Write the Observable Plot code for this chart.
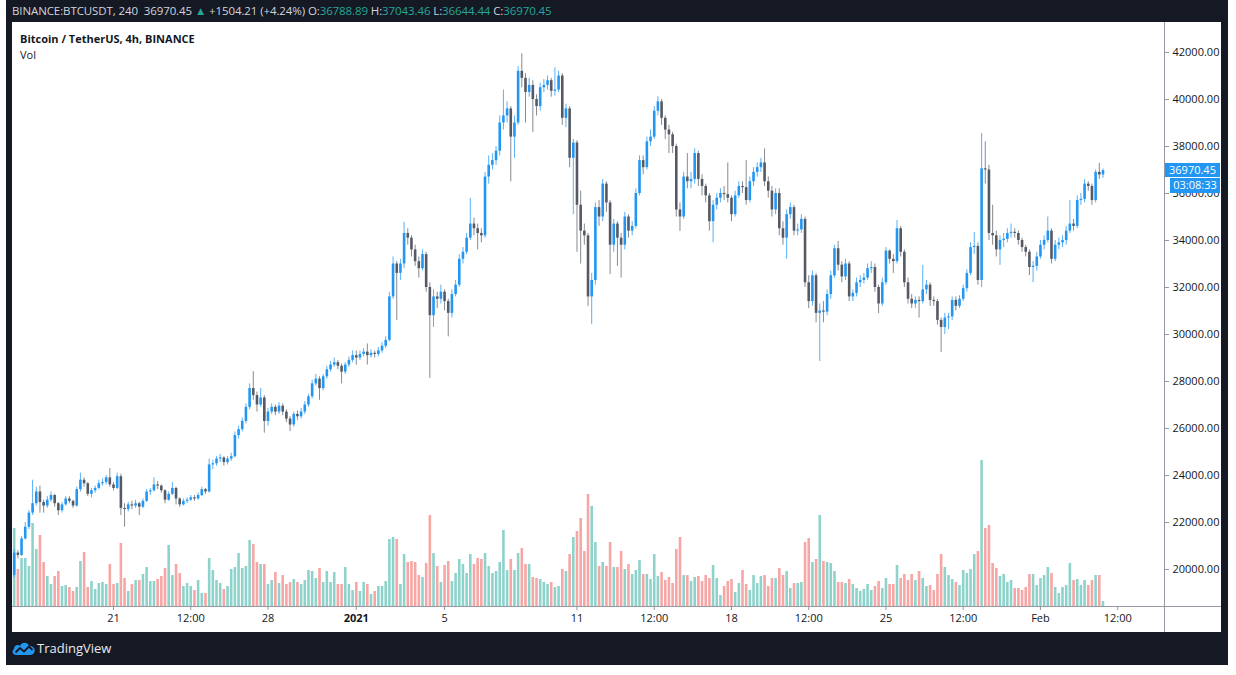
<!DOCTYPE html>
<html>
<head>
<meta charset="utf-8">
<script src="https://cdn.jsdelivr.net/npm/d3@7"></script>
<script src="https://cdn.jsdelivr.net/npm/@observablehq/plot@0.6"></script>
<style>
  html, body { margin: 0; padding: 0; background: #ffffff; }
  body { width: 1236px; height: 675px; position: relative; overflow: hidden; font-family: "Open Sans", "Noto Sans", sans-serif; }
  #frame { position: absolute; left: 6px; top: 0; width: 1222px; height: 665px; background: #151924; }
  #panel { position: absolute; left: 12px; top: 22px; width: 1209px; height: 610px; background: #ffffff; overflow: hidden; }
  #hdr { position: absolute; left: 12px; top: 3px; font-size: 11.5px; line-height: 16px; color: #d1d4dc; white-space: nowrap; letter-spacing: -0.1px; }
  #hdr .g { color: #26a69a; }
  #title { position: absolute; left: 20px; top: 31px; font-size: 11px; font-weight: 700; color: #131722; white-space: nowrap; }
  #vol { position: absolute; left: 20px; top: 47px; font-size: 11px; color: #131722; }
  .layer { position: absolute; left: 12px; top: 22px; }
  .hline { position: absolute; left: 12px; width: 1209px; height: 1px; background: #9598a1; }
  .vline { position: absolute; width: 1px; background: #9598a1; }
  .tag { position: absolute; background: #2196f3; color: #ffffff; font-size: 11px; line-height: 14px; text-align: center; }
  #brand { position: absolute; left: 37px; top: 639px; font-size: 13px; color: #e8eaf0; }
  #logo { position: absolute; left: 11px; top: 638px; }
</style>
</head>
<body>
<div id="frame"></div>
<div id="panel"></div>
<div id="hdr"></div>
<div id="charts"></div>
<div id="title">Bitcoin / TetherUS, 4h, BINANCE</div>
<div id="vol">Vol</div>
<svg id="logo" width="26" height="20" viewBox="0 0 26 20">
  <path d="M5 17 C1.5 17 0.5 13 3 11 C3 7.5 7 6 9 8 C10.5 4 16.5 3.5 18 8 C21.5 7.5 24.5 10.5 23.5 13.5 C23 16 21 17 19 17 Z" fill="#2196f3"/>
  <path d="M4.5 14.5 L9 10 L13 13.5 L18 8.5 L21.5 12" fill="none" stroke="#151924" stroke-width="1.8" stroke-linejoin="round"/>
</svg>
<div id="brand">TradingView</div>
<script>
// ---- data (4h candles, BINANCE BTCUSDT) ----
const firstStart = Date.UTC(2020, 11, 16, 12); // first candle open time
const firstOpen = 19750;
const closes = [
20700,20600,21300,21800,22400,22800,23300,22850,22700,22950,23150,22800,22500,22750,23000,22900,22700,23400,23800,23650,
23200,23350,23450,23650,23700,23900,23600,23450,23950,22600,22550,22750,22700,22800,22650,22900,23300,23350,23600,23550,
23350,22950,23200,23450,23000,22750,22900,22950,23050,23000,23150,23400,23300,24450,24500,24700,24750,24550,24700,24800,
25700,25950,26300,26900,27700,27400,27000,27300,26300,26700,26900,26700,26950,26700,26400,26150,26600,26500,26700,27000,
27350,27900,28100,27700,28200,28500,28700,28800,28650,28400,28700,28900,29100,29000,29150,29250,29100,29200,29150,29300,
29500,29750,31600,33000,32600,33000,34300,34100,33600,33100,32800,33400,32000,30800,31600,31500,31800,31400,30900,31700,
32100,33200,33500,34100,34700,34500,34300,34200,36700,37200,37400,37800,39000,39300,39600,38400,39000,41200,40900,40300,
40600,40000,39700,40500,40600,40800,40350,40400,41000,39200,39600,37500,38150,35500,34400,34200,31600,32300,35400,35000,
36400,35600,33800,34700,34100,33800,35000,34400,34600,36000,37400,37100,38200,38400,39500,39900,39200,38700,38500,38000,
35300,35000,36700,36500,36600,37700,36600,36300,35900,34800,35500,35800,36000,35950,35800,35100,35900,36300,36250,35700,
36500,36900,37100,37300,36500,36100,35300,36000,34500,34100,35100,35400,34400,34450,34900,32200,31400,32500,30900,31000,
30950,31700,32500,33650,32950,32450,33000,31600,31750,32200,32300,32400,32800,32850,32000,31300,32200,33550,33200,33100,
34500,33500,32200,31500,31300,31450,31400,31900,32100,31450,31400,30600,30300,30700,30750,31450,31200,31500,31950,32600,
33700,33750,32300,37050,37000,34300,34200,33600,34000,34050,34300,34350,34300,34000,33700,33500,32850,32900,33300,33800,
34000,34400,33200,33800,33900,34000,34400,34700,34600,35700,35750,36400,36300,35700,36900,36788.89,36970.45
];
const highs = [
20850,20800,21400,22000,22500,23800,23500,23550,22950,23100,23300,23200,22850,22850,23100,23100,22950,23500,24100,23900,
23700,23450,23550,23800,23850,24000,24300,23700,24100,24050,22800,22850,22900,22950,22850,23000,23400,23450,23900,23750,
23600,23400,23300,23700,23500,23050,23000,23050,23150,23150,23250,23500,23450,24700,24650,24800,24900,24800,24800,24950,
25850,26100,26450,27050,27900,28420,27550,27700,27400,26850,27050,27000,27100,27050,26800,26500,26700,26750,26850,27150,
27450,28050,28300,28200,28300,28650,28850,29000,28900,28750,28800,29050,29300,29300,29300,29400,29600,29350,29300,29450,
29650,29900,31800,33300,33100,33200,34780,34500,34200,33800,33300,33600,33500,32200,31900,31800,32100,31900,31500,31900,
32300,33400,33700,34300,35800,34950,34700,34500,36900,37600,37700,38000,39300,40400,39900,39700,39300,41400,41950,41100,
40900,40800,40200,40700,40850,41000,40900,41350,41200,41100,39800,39700,38300,38250,36100,34700,34300,32600,35600,35700,
36600,36500,35700,34900,34800,34300,35200,35100,34800,36200,37600,37600,38400,38700,39700,40120,40000,39300,38900,38600,
38100,35600,36900,37700,36900,37900,37800,36800,36400,36000,35700,36000,36200,36300,37300,35900,36100,36500,36500,37400,
36700,37100,37300,37500,37900,36700,36300,36200,36200,34800,35300,35600,35500,34700,35100,35000,32500,32700,32600,31300,
31400,31900,32700,33800,33960,33100,33200,33100,31900,32400,32500,32600,33000,33100,33000,32100,32400,33700,33600,33400,
34850,34600,33600,32400,31700,31600,31600,32940,32300,32200,31600,31500,30700,30900,30900,31600,31600,31650,32100,32750,
33900,34340,33900,38550,38200,37200,35500,34400,34200,34300,34500,34700,34500,34400,34100,33800,33600,33100,33500,34000,
34200,35000,34500,34000,34100,34200,34600,35700,34900,35900,36000,36600,36500,36400,37000,37280,37043.46
];
const lows = [
19650,20450,20550,21250,21700,22300,22700,22400,22400,22600,22850,22650,22300,22400,22700,22800,22600,22650,23300,23500,
23100,23050,23250,23400,23550,23600,23500,23350,23400,22300,21800,22450,22550,22600,22300,22600,22850,23150,23300,23400,
23250,22800,22900,23150,22750,22650,22700,22800,22900,22900,22950,23100,23200,23250,24250,24400,24550,24400,24450,24600,
24750,25550,25850,26200,26800,27200,26700,26900,25800,26100,26600,26550,26600,26550,26250,25870,26050,26350,26400,26600,
26900,27250,27800,27200,27600,28100,28400,28600,28500,27900,28300,28600,28800,28700,28900,29050,28700,29000,29000,29050,
29200,29400,29700,31500,30600,32300,32800,33800,33300,32900,32400,32700,31800,28130,30300,31100,31300,31000,29900,30700,
31600,32000,33000,33400,34000,34200,33600,33900,34100,36400,37000,37200,37600,38700,39000,36500,37500,38900,40500,39000,
40100,38600,39300,39500,40300,40400,40100,40150,40300,38900,38800,37100,35100,33500,33000,33800,31200,30420,32100,34600,
34800,35200,32550,33500,32900,32400,33600,34100,34200,34500,35900,36800,37000,38000,38300,39300,38900,38300,37700,37700,
35000,34390,34900,36200,36200,36400,36300,35900,35600,34400,33900,35300,35600,35700,35600,34800,35000,35800,36000,35500,
35600,36300,36700,36900,36300,35800,35000,35100,34200,33800,33200,34900,34200,34200,34300,32000,31100,31200,30500,28850,
30500,30800,31500,32400,32700,32200,32300,31400,31400,31600,32000,32150,32300,32600,31800,30890,31200,32100,33000,32600,
33000,33300,32000,31300,31100,31100,30700,31300,31700,31200,31200,30400,29240,30000,30200,30600,31000,31100,31400,31800,
32500,33400,32100,32000,36400,34000,33800,33300,32940,33700,33900,34100,34100,33800,33500,33300,32510,32210,32700,33200,
33600,33900,33000,33100,33600,33700,33800,34300,34400,34500,35500,35600,36100,35500,35600,36600,36644.44
];
// volume, thousand BTC per 4h candle
const volumes = [
39,18.5,24,24,20,41.5,28.5,35.5,22,15,11,15,17.5,10,10.5,9.5,7.5,9.5,22.5,27,
9.5,12.5,8.5,11.5,12,11,21,11,11.5,31.5,14,7.5,11,13,13,16,19.5,12.5,12.5,13.5,
15,19,30.5,15.5,21,16.5,10,11.5,10,8,13,6.5,6.5,24,18,13,11.5,8.5,10,18.5,
19.5,26.5,19,20,33,31,22,21,21,11,13,17,11.5,15.5,11,12,13.5,12,11,13,
18,17.5,14,19,12,17.5,12,17,11,11,19.5,11,8,12,7.5,12,11,6,7.5,10,
10,12.5,33.5,34.5,33.5,11,26,22,22.5,22,15.5,14.5,21.5,45.5,26.5,20,12,20.5,22.5,12.5,
16.5,23.5,21,16.5,26,21,24,23.5,26.5,20,16.5,17.5,22,38,18,23.5,18,26.5,29,21,
21,14.5,14,13.5,12,11,12,9.5,10,18.5,17.5,26,34.5,37.5,44,27.5,56,50,32,20,
22,20,32,19.5,19.5,27.5,18.5,21,16,18,23,16,16,13.5,26,15,17,13,14.5,11.5,
28.5,34.5,15.5,15.5,12.5,14.5,15,12.5,15.5,14,20.5,14,5.5,10,12.5,13.5,7,11.5,18,11,
8,15.5,11.5,15,15.5,10,14,14,19,15.5,17.5,9,11.5,11.5,12,32,34,22,23.5,45.5,
22.5,22,21.5,17.5,12,12,11.5,13.5,11,9,7.5,8.5,11,8,10,12.5,9,14,11,11,
20.5,14,16,13,16,13,17.5,14,10,10.5,8,16,26,19.5,15.5,13.5,12,10.5,18,16.5,
18.5,26,27.5,73,39,40.5,21.5,19,15,16,12,13,9,9,8,9.5,16,16,10.5,14,
15.5,19.5,16.5,9.5,6.5,9.5,10.5,21.5,13,13.5,10.5,13,10.5,13,15.5,15.5,2.5
];
const priceTicks = [20000,22000,24000,26000,28000,30000,32000,34000,36000,38000,40000,42000];
const timeTicks = [
  Date.UTC(2020,11,21), Date.UTC(2020,11,24,12), Date.UTC(2020,11,28), Date.UTC(2021,0,1),
  Date.UTC(2021,0,5), Date.UTC(2021,0,11), Date.UTC(2021,0,14,12), Date.UTC(2021,0,18),
  Date.UTC(2021,0,21,12), Date.UTC(2021,0,25), Date.UTC(2021,0,28,12), Date.UTC(2021,1,1),
  Date.UTC(2021,1,4,12)
];
const timeTickLabels = ["21","12:00","28","2021","5","11","12:00","18","12:00","25","12:00","Feb","12:00"];
const dailyChange = ["+1504.21", "(+4.24%)"];
const countdown = "03:08:33";

// ---- build table ----
const STEP = 4 * 3600 * 1000;
const candles = closes.map((c, i) => ({
  date: new Date(firstStart + i * STEP),
  open: i === 0 ? firstOpen : closes[i - 1],
  close: c, high: highs[i], low: lows[i], volume: volumes[i]
}));
const isUp = d => d.close >= d.open;
const isDown = d => d.close < d.open;
const last = candles[candles.length - 1];

// ---- styles ----
const UP = "#2196f3", DOWN = "#555963";
const VUP = "#8ed3cb", VDOWN = "#f6a6a4";
const W = 1209, H = 610, MR = 57, MB = 26;
const xDomain = [new Date(Date.UTC(2020,11,16,10,9)), new Date(Date.UTC(2021,1,6,14,54))];
const yDomain = [18426, 43277];
const fmt = v => v.toFixed(2);
const labelOf = new Map(timeTicks.map((t, i) => [t, timeTickLabels[i]]));

// header
const f2 = v => v.toFixed(2);
document.getElementById("hdr").innerHTML =
  `BINANCE:BTCUSDT, 240&nbsp; ${f2(last.close)} <span class="g">▲</span> ${dailyChange[0]} ${dailyChange[1]} ` +
  `O:<span class="g">${f2(last.open)}</span> H:<span class="g">${f2(last.high)}</span> ` +
  `L:<span class="g">${f2(last.low)}</span> C:<span class="g">${f2(last.close)}</span>`;

const common = {
  width: W, height: H, marginLeft: 0, marginRight: MR, marginTop: 0, marginBottom: MB,
  style: {background: "transparent", fontFamily: "'Open Sans', 'Noto Sans', sans-serif", fontSize: "11px", color: "#131722", overflow: "visible"}
};

const volPlot = Plot.plot({
  ...common,
  x: {type: "utc", domain: xDomain, axis: null},
  y: {domain: [0, 292], axis: null},
  marks: [
    Plot.ruleX(candles, {x: "date", y1: 0, y2: "volume", filter: isUp, stroke: VUP, strokeWidth: 2.6}),
    Plot.ruleX(candles, {x: "date", y1: 0, y2: "volume", filter: isDown, stroke: VDOWN, strokeWidth: 2.6})
  ]
});

const pricePlot = Plot.plot({
  ...common,
  x: {type: "utc", domain: xDomain},
  y: {domain: yDomain},
  marks: [
    Plot.axisY({anchor: "right", ticks: priceTicks, tickFormat: fmt, tickSize: 4, tickPadding: 4, stroke: "#9598a1", label: null, fill: "#131722"}),
    Plot.axisX({ticks: timeTicks.map(t => new Date(t)), tickFormat: d => labelOf.get(+d), tickSize: 4, tickPadding: 4, stroke: "#9598a1", label: null, fill: "#131722"}),
    Plot.ruleX(candles, {x: "date", y1: "low", y2: "high", filter: isUp, stroke: UP, strokeWidth: 1, strokeOpacity: 0.75}),
    Plot.ruleX(candles, {x: "date", y1: "low", y2: "high", filter: isDown, stroke: DOWN, strokeWidth: 1, strokeOpacity: 0.7}),
    Plot.ruleX(candles, {x: "date", y1: "open", y2: "close", filter: isUp, stroke: UP, strokeWidth: 2.6}),
    Plot.ruleX(candles, {x: "date", y1: "open", y2: "close", filter: isDown, stroke: DOWN, strokeWidth: 2.6})
  ]
});

d3.select(pricePlot).selectAll("text").filter(function() { return this.textContent === "2021"; }).attr("font-weight", "bold");

const holder = document.getElementById("charts");
volPlot.classList.add("layer");
pricePlot.classList.add("layer");
holder.appendChild(volPlot);
holder.appendChild(pricePlot);

// axis frame lines
const axisY = 22 + (H - MB);
const axisX = 12 + (W - MR);
const hl = document.createElement("div"); hl.className = "hline"; hl.style.top = axisY + "px"; holder.appendChild(hl);
const vl = document.createElement("div"); vl.className = "vline"; vl.style.left = axisX + "px"; vl.style.top = "22px"; vl.style.height = "610px"; holder.appendChild(vl);

// last price tags
const yLast = 22 + pricePlot.scale("y").apply(last.close);
const t1 = document.createElement("div"); t1.className = "tag";
t1.style.left = (axisX + 1) + "px"; t1.style.top = (yLast - 7) + "px"; t1.style.width = "55px"; t1.style.height = "14px";
t1.textContent = f2(last.close); holder.appendChild(t1);
const t2 = document.createElement("div"); t2.className = "tag";
t2.style.left = (axisX + 6) + "px"; t2.style.top = (yLast + 8) + "px"; t2.style.width = "50px"; t2.style.height = "15px";
t2.textContent = countdown; holder.appendChild(t2);
</script>
</body>
</html>
